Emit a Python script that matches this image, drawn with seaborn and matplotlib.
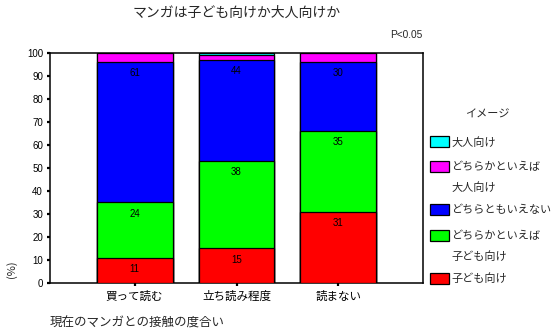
import matplotlib
matplotlib.use("Agg")
import matplotlib.pyplot as plt
from matplotlib.patches import Rectangle
import numpy as np
import pandas as pd
import seaborn as sns

categories = ["買って読む", "立ち読み程度", "読まない"]
series_names = ["子ども向け", "どちらかといえば\n子ども向け", "どちらともいえない",
                "どちらかといえば\n大人向け", "大人向け"]
kids = [11, 15, 31]
rather_kids = [24, 38, 35]
neutral = [61, 44, 30]
rather_adult = [4, 2, 4]
adult = [0, 1, 0]
colors = ["#FF0000", "#00FF00", "#0000FF", "#FF00FF", "#00FFFF"]
labeled = [True, True, True, False, False]

sns.set_theme(style="white")
plt.rcParams["font.family"] = ["Noto Sans CJK JP", "DejaVu Sans"]

jp = ["Noto Sans CJK JP", "DejaVu Sans"]
num_font = ["Liberation Sans", "DejaVu Sans"]

layers = [kids, rather_kids, neutral, rather_adult, adult]
cum = np.cumsum(np.array(layers, dtype=float), axis=0)

W, H = 559, 334
fig = plt.figure(figsize=(W / 100, H / 100), dpi=100)
ax = fig.add_axes([50 / W, (H - 283) / H, 373 / W, 230.3 / H])

# stacked bars: draw cumulative totals from the top layer down
for i in range(len(layers) - 1, -1, -1):
    df = pd.DataFrame({"cat": categories, "val": cum[i]})
    sns.barplot(data=df, x="cat", y="val", color=colors[i], saturation=1,
                width=0.745, edgecolor="black", linewidth=0.9,
                errorbar=None, ax=ax, zorder=2 + (len(layers) - i))

for i, vals in enumerate(layers):
    if not labeled[i]:
        continue
    for j, v in enumerate(vals):
        ax.annotate(f"{v}", xy=(j, cum[i][j]), xytext=(0, -8),
                    textcoords="offset points", ha="center", va="center",
                    fontsize=7, family=num_font, color="black", zorder=20)

ax.set_xlim(-0.83, 2.83)
ax.set_ylim(0, 100)
ax.set_yticks(np.arange(0, 101, 10))
ax.set_yticklabels([str(v) for v in range(0, 101, 10)], family=num_font, fontsize=7)
ax.set_xticks(range(len(categories)))
ax.set_xticklabels(categories, family=jp, fontsize=8.3)
ax.set_xlabel("")
ax.set_ylabel("")
ax.tick_params(axis="both", direction="out", length=2, width=1.6, color="black",
               left=True, bottom=True, labelcolor="black")
ax.tick_params(axis="y", pad=3)
ax.tick_params(axis="x", pad=3)
for s in ax.spines.values():
    s.set_visible(True)
    s.set_color("black")
    s.set_linewidth(1.1)
ax.grid(False)

fig.text(237 / W, 1 - 12.5 / H, "マンガは子ども向けか大人向けか", ha="center", va="center",
         fontsize=10, family=jp)
fig.text(422 / W, 1 - 35 / H, "P<0.05", ha="right", va="center", fontsize=7.3,
         family=num_font)
fig.text(12 / W, 1 - 269 / H, "(%)", ha="center", va="center", rotation=90,
         fontsize=8, family=jp)
fig.text(50 / W, 1 - 323 / H, "現在のマンガとの接触の度合い", ha="left", va="center",
         fontsize=9, family=jp)

# legend key: top category first, swatch beside the first line of each label
fig.text(487 / W, 1 - 115 / H, "イメージ", ha="center", va="center", fontsize=8, family=jp)
swatch_y = [278, 235, 209, 166, 141.5]
line_pitch = 20.5
for i in range(len(layers) - 1, -1, -1):
    yc = swatch_y[i]
    fig.patches.append(Rectangle((430 / W, 1 - (yc + 5.5) / H), 19 / W, 11 / H,
                                 transform=fig.transFigure, facecolor=colors[i],
                                 edgecolor="black", linewidth=0.9))
    for k, line in enumerate(series_names[i].split("\n")):
        fig.text(451 / W, 1 - (yc + 1 + k * line_pitch) / H, line, ha="left",
                 va="center", fontsize=8, family=jp)

fig.savefig("out.png", dpi=100)
